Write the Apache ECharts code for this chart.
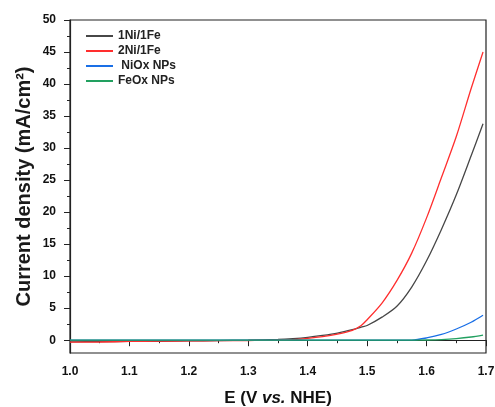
<!DOCTYPE html>
<html><head><meta charset="utf-8">
<script src="https://cdn.jsdelivr.net/npm/echarts@6/dist/echarts.min.js"></script>
<style>html,body{margin:0;padding:0;background:#fff}#c{width:495px;height:407px}</style>
</head><body><div id="c"></div>
<script>
const seriesNames = ['1Ni/1Fe', '2Ni/1Fe', ' NiOx NPs', 'FeOx NPs'];
const E = [1.00,1.05,1.10,1.15,1.20,1.25,1.30,1.35,1.375,1.40,1.425,1.45,1.475,1.49,1.50,1.525,1.55,1.575,1.60,1.625,1.65,1.675,1.695];
const ni1fe1 = [-0.25,-0.22,-0.2,-0.17,-0.12,-0.07,0.0,0.12,0.25,0.45,0.75,1.12,1.65,2.05,2.3,3.6,5.3,8.3,12.4,17.3,22.7,28.8,33.8];
const ni2fe1 = [-0.3,-0.28,-0.2,-0.15,-0.12,-0.08,-0.05,0.0,0.1,0.28,0.55,0.95,1.55,2.3,3.2,5.8,9.3,13.6,19.1,25.4,31.8,39.3,45.0];
const niox = [0,0,0,0,0,0,0,0,0,0,0,0,0,0,0,0,0,0.02,0.35,0.9,1.75,2.8,3.9];
const feox = [0,0,0,0,0,0,0,0,0,0,0,0,0,0,0,0,0,0,0.03,0.1,0.25,0.5,0.8];
const yTicks = [0,5,10,15,20,25,30,35,40,45,50];
const yMinorTicks = [2.5,7.5,12.5,17.5,22.5,27.5,32.5,37.5,42.5,47.5];
const colors = ['#474747', '#ff2e2e', '#1a6fe6', '#22a060'];
const allY = [ni1fe1, ni2fe1, niox, feox];

const chart = echarts.init(document.getElementById('c'));
const font = 'Liberation Sans, Arial, sans-serif';
chart.setOption({
  animation: false,
  grid: {left: 70, right: 9, top: 20, bottom: 54, show: true, borderColor: '#222', borderWidth: 1.2, outerBoundsMode: 'none', containLabel: false},
  legend: {
    left: 81, top: 25, orient: 'vertical', itemGap: 3, itemWidth: 27, itemHeight: 2,
    icon: 'rect',
    textStyle: {fontFamily: font, fontWeight: 'bold', fontSize: 12, lineHeight: 12, color: '#222'},
    data: seriesNames
  },
  xAxis: {
    type: 'value', min: 1.0, max: 1.7, interval: 0.1,
    name: '{n|E (V }{i|vs.}{n| NHE)}', nameLocation: 'middle', nameGap: 37, nameMoveOverlap: false,
    nameTextStyle: {rich: {n: {fontFamily: font, fontWeight: 'bold', fontSize: 17, color: '#111'}, i: {fontFamily: font, fontWeight: 'bold', fontStyle: 'italic', fontSize: 17, color: '#111'}}},
    axisLine: {show: true, lineStyle: {color: '#222', width: 1.2}},
    axisTick: {show: true, length: 6, lineStyle: {color: '#222'}},
    minorTick: {show: true, splitNumber: 2, length: 3, lineStyle: {color: '#222'}},
    splitLine: {show: false},
    axisLabel: {fontFamily: font, fontWeight: 'bold', fontSize: 12, color: '#111', margin: 13, formatter: v => v.toFixed(1)}
  },
  yAxis: [{
    type: 'value', min: -2, max: 50,
    name: 'Current density (mA/cm²)', nameLocation: 'middle', nameGap: 36, nameMoveOverlap: false,
    nameTextStyle: {fontFamily: font, fontWeight: 'bold', fontSize: 20, color: '#1a1a1a'},
    axisLine: {show: true, lineStyle: {color: '#222', width: 1.2}},
    axisTick: {show: true, length: 6, customValues: yTicks, lineStyle: {color: '#222'}},
    splitLine: {show: false},
    axisLabel: {fontFamily: font, fontWeight: 'bold', fontSize: 12, color: '#111', margin: 14, customValues: yTicks}
  }, {
    type: 'value', min: -2, max: 50, position: 'left',
    axisLine: {show: false},
    axisTick: {show: true, length: 3, customValues: yMinorTicks, lineStyle: {color: '#222'}},
    axisLabel: {show: false},
    splitLine: {show: false}
  }],
  series: seriesNames.map((n, k) => ({
    name: n, type: 'line', smooth: 0.3, showSymbol: false, symbol: 'none',
    lineStyle: {width: 1.3, color: colors[k]}, itemStyle: {color: colors[k]},
    data: E.map((x, i) => [x, allY[k][i]])
  }))
});
</script></body></html>
